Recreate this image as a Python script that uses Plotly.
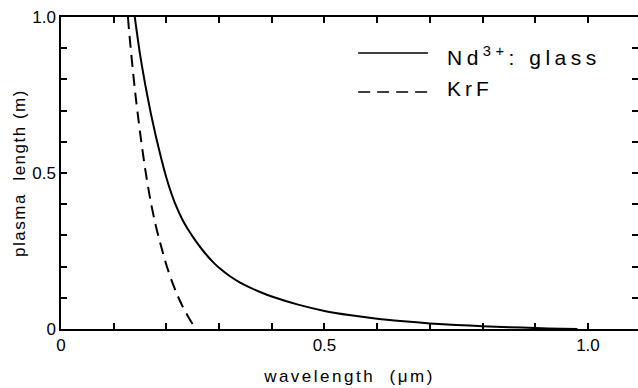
import plotly.graph_objects as go

# Data
nd_wavelength = [0.14, 0.15, 0.16, 0.17, 0.18, 0.19, 0.20, 0.21, 0.22, 0.23, 0.24, 0.25, 0.26,
                 0.27, 0.28, 0.29, 0.30, 0.32, 0.34, 0.36, 0.38, 0.40, 0.45, 0.50, 0.55, 0.60,
                 0.65, 0.70, 0.75, 0.80, 0.85, 0.90, 0.95, 0.98]
nd_length = [1.0, 0.88, 0.782, 0.695, 0.618, 0.548, 0.485, 0.432, 0.388, 0.352, 0.322, 0.296, 0.272,
             0.25, 0.23, 0.212, 0.196, 0.17, 0.149, 0.132, 0.117, 0.104, 0.078, 0.058, 0.044, 0.033,
             0.025, 0.018, 0.013, 0.009, 0.006, 0.003, 0.001, 0.0]

krf_wavelength = [0.127, 0.13, 0.14, 0.15, 0.16, 0.17, 0.18, 0.19, 0.20, 0.21, 0.22, 0.23, 0.24, 0.25, 0.256]
krf_length = [1.0, 0.94, 0.77, 0.63, 0.51, 0.41, 0.33, 0.265, 0.205, 0.155, 0.112, 0.075, 0.043, 0.015, 0.0]

tick_vals = [round(i * 0.1, 1) for i in range(11)]
x_tick_text = ["0", "", "", "", "", "0.5", "", "", "", "", "1.0"]
y_tick_text = ["0", "", "", "", "", "0.5", "", "", "", "", "1.0"]

legend_names = ["Nd<sup>3+</sup>: glass", "KrF"]
x_title = "wavelength  (\u03bcm)"
y_title = "plasma  length (m)"

FONT = "Liberation Sans"


def spaced(text, px):
    return f'<span style="letter-spacing:{px}px">{text}</span>'


fig = go.Figure()
fig.add_trace(go.Scatter(x=nd_wavelength, y=nd_length, mode="lines",
                         line=dict(color="black", width=2, shape="spline", smoothing=0.6),
                         showlegend=False))
fig.add_trace(go.Scatter(x=krf_wavelength, y=krf_length, mode="lines",
                         line=dict(color="black", width=2, shape="spline", smoothing=0.6,
                                   dash="12px,7px"),
                         showlegend=False))

axis_common = dict(
    showline=True, linecolor="black", linewidth=1.5, mirror="ticks",
    ticks="inside", ticklen=6, tickwidth=1.5, tickcolor="black",
    showgrid=False, zeroline=False, automargin=False,
    tickfont=dict(family=FONT, size=17, color="black"),
)

fig.update_layout(
    width=638, height=388,
    margin=dict(l=61, r=0, t=17, b=59),
    paper_bgcolor="white", plot_bgcolor="white",
    xaxis=dict(range=[0, 1.095], tickmode="array", tickvals=tick_vals, ticktext=x_tick_text,
               title=dict(text=spaced(x_title, 2.5), font=dict(family=FONT, size=17, color="black"),
                          standoff=16),
               **axis_common),
    yaxis=dict(range=[0, 1.0], tickmode="array", tickvals=tick_vals, ticktext=y_tick_text,
               title=dict(text=spaced(y_title, 1.5), font=dict(family=FONT, size=17, color="black"),
                          standoff=2),
               **axis_common),
    shapes=[
        dict(type="line", xref="paper", yref="paper", x0=0.515, x1=0.636, y0=0.885, y1=0.885,
             line=dict(color="black", width=1.5)),
        dict(type="line", xref="paper", yref="paper", x0=0.515, x1=0.636, y0=0.76, y1=0.76,
             line=dict(color="black", width=1.5, dash="12px,7px")),
    ],
    annotations=[
        dict(xref="paper", yref="paper", x=0.665, y=0.875, text=spaced(legend_names[0], 4.5), showarrow=False,
             xanchor="left", yanchor="middle", font=dict(family=FONT, size=21, color="black")),
        dict(xref="paper", yref="paper", x=0.665, y=0.77, text=spaced(legend_names[1], 4), showarrow=False,
             xanchor="left", yanchor="middle", font=dict(family=FONT, size=21, color="black")),
    ],
)

fig.write_html("out.html", config={"displayModeBar": False},
               post_script="document.body.style.margin='0px';")
